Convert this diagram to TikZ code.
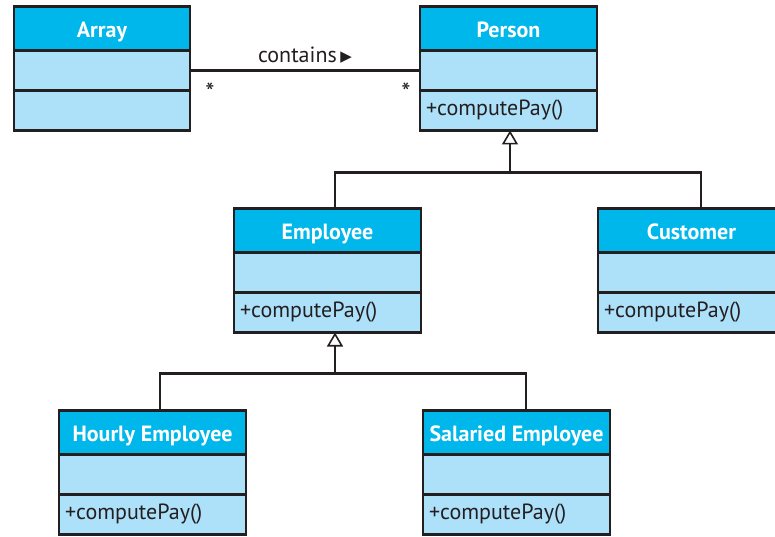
\documentclass[tikz,border=0pt]{standalone}
\usepackage{fontspec}
\setmainfont{PT Sans}
\newfontfamily\symfont{DejaVu Sans}
\usetikzlibrary{arrows.meta}
\usetikzlibrary{positioning}
\definecolor{umlhead}{RGB}{0,183,235}
\definecolor{umlbody}{RGB}{173,224,249}
\definecolor{umlline}{RGB}{35,31,32}
\tikzset{
    head/.style = {draw=umlline, fill=umlhead, line width=2.5pt, outer sep=0pt,
                 minimum width=#1, minimum height=44pt, text=white,
                 text height=18pt, text depth=0pt,
                 font=\fontsize{22}{24}\selectfont\bfseries},
    head/.default = 187pt,
    field/.style = {draw=umlline, fill=umlbody, line width=2.5pt, outer sep=0pt,
                 text width=#1, inner xsep=6pt, minimum height=40pt, align=left,
                 text height=14pt, text depth=4pt,
                 text=umlline, font=\fontsize{22}{24}\selectfont},
    field/.default = 175pt,
    link/.style = {draw=umlline, line width=2.5pt},
    inherit/.style = {link, -{Triangle[open, length=14pt, width=16pt, line width=1.6pt]}},
    mult/.style = {text=umlline, font=\fontsize{26}{28}\selectfont},
}

\begin{document}
\begin{tikzpicture}[x=1pt, y=-1pt]
\useasboundingbox (0,0) rectangle (775,537);

% top row
\node (arr-h) [head=176pt] at (102,28.5) {Array};
\node (arr-a) [field=164pt, below=0pt of arr-h] {};
\node (arr-m) [field=164pt, below=0pt of arr-a] {};

\node (per-h) [head=177pt, right=230pt of arr-h] {Person};
\node (per-a) [field=165pt, below=0pt of per-h] {};
\node (per-m) [field=165pt, below=0pt of per-a] {+computePay()};

% middle row
\node (emp-h) [head] at (327.5,230.5) {Employee};
\node (emp-a) [field, below=0pt of emp-h] {};
\node (emp-m) [field, below=0pt of emp-a] {+computePay()};

\node (cust-h) [head, right=177pt of emp-h] {Customer};
\node (cust-a) [field, below=0pt of cust-h] {};
\node (cust-m) [field, below=0pt of cust-a] {+computePay()};

% bottom row
\node (hourly-h) [head] at (152.5,432.5) {Hourly Employee};
\node (hourly-a) [field, below=0pt of hourly-h] {};
\node (hourly-m) [field, below=0pt of hourly-a] {+computePay()};

\node (sal-h) [head, right=177pt of hourly-h] {Salaried Employee};
\node (sal-a) [field, below=0pt of sal-h] {};
\node (sal-m) [field, below=0pt of sal-a] {+computePay()};

% association
\draw[link] (arr-a) -- node[above=3pt, text=umlline, font=\fontsize{22}{24}\selectfont]
    {contains\,\raisebox{1.5pt}{\symfont\fontsize{15}{15}\selectfont ▶}} (per-a);
\node (mul-l) [mult] at (210,92) {*};
\node (mul-r) [mult] at (406,92) {*};

% generalisations
\coordinate (j1) at ([xshift=1.5pt, yshift=-42pt]per-m.south);
\draw[link] ([xshift=7.5pt]emp-h.north) |- (j1) -| ([xshift=9.5pt]cust-h.north);
\draw[inherit] (j1) -- (per-m.south -| j1);

\coordinate (j2) at ([xshift=7.5pt, yshift=-41pt]emp-m.south);
\draw[link] ([xshift=7.5pt]hourly-h.north) |- (j2) -| ([xshift=9.5pt]sal-h.north);
\draw[inherit] (j2) -- (emp-m.south -| j2);
\end{tikzpicture}
\end{document}
